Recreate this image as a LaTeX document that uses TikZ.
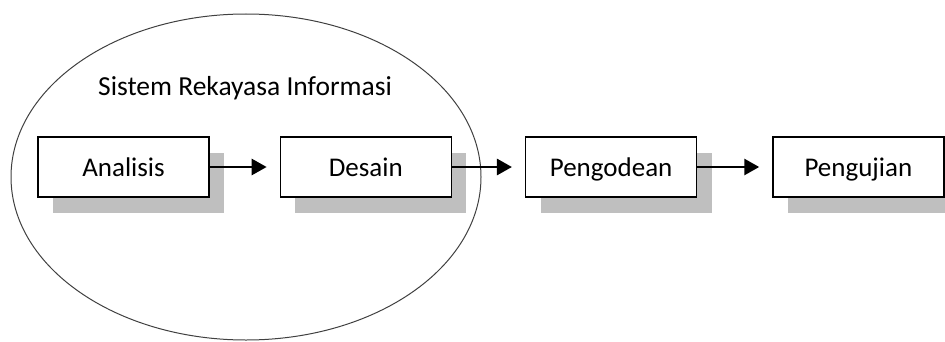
\documentclass[tikz,border=0pt]{standalone}
\usepackage{fontspec}
\setmainfont{Carlito}
\usetikzlibrary{positioning,shadows,arrows.meta}

\tikzset{
  stage/.style={draw, line width=1.3pt, fill=white, minimum width=171pt, minimum height=60pt,
    inner sep=0pt, text height=22pt, text depth=4pt, font=\fontsize{27}{31}\selectfont,
    drop shadow={shadow xshift=15pt, shadow yshift=-16pt, fill=black!25, opacity=1}},
  flow/.style={line width=2.8pt, -{Triangle[length=15pt,width=16pt]}, shorten >=13pt}
}

\begin{document}
\begin{tikzpicture}[x=1pt, y=1pt]
  \useasboundingbox (0,0) rectangle (945,341);
  \draw[line width=1pt, black!75] (246,164) ellipse [x radius=235, y radius=163];
  \node[font=\fontsize{27.5}{31}\selectfont] (title) at (245,253) {Sistem Rekayasa Informasi};

  \node[stage] (analisis) at (123.5,174) {Analisis};
  \node[stage, right=70pt of analisis] (desain) {Desain};
  \node[stage, right=73pt of desain] (pengodean) {Pengodean};
  \node[stage, right=75pt of pengodean] (pengujian) {Pengujian};

  \draw[flow] (analisis) -- (desain);
  \draw[flow] (desain) -- (pengodean);
  \draw[flow] (pengodean) -- (pengujian);
\end{tikzpicture}
\end{document}
